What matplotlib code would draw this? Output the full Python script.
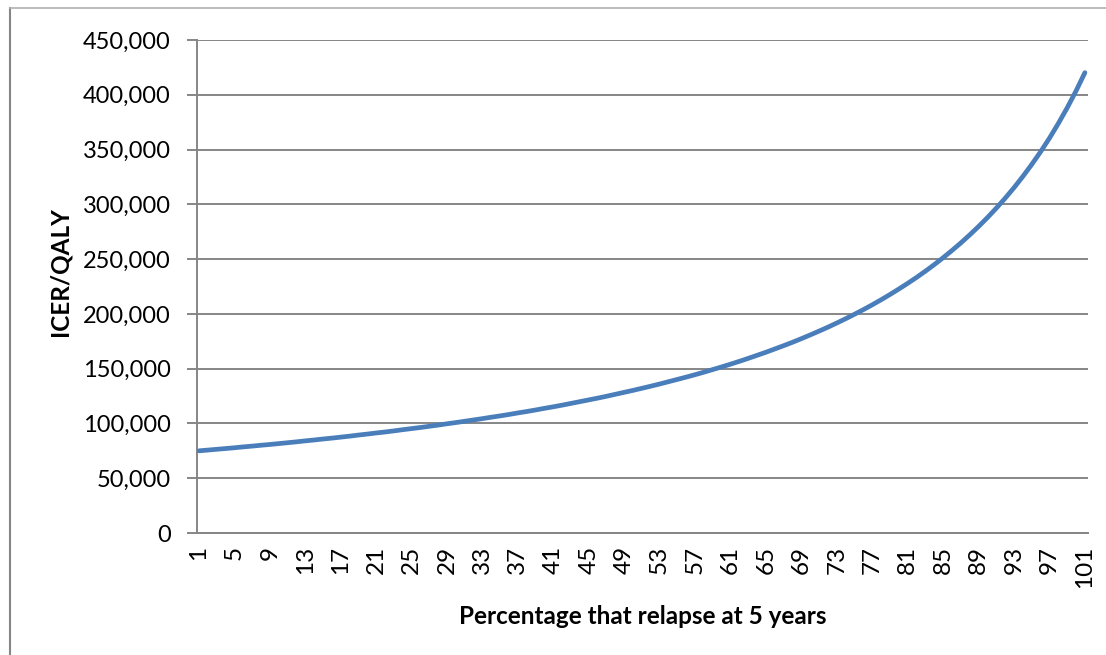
import matplotlib
matplotlib.use("Agg")
import matplotlib.pyplot as plt
from matplotlib.ticker import FuncFormatter
from matplotlib.lines import Line2D

# ---- data ----
relapse_pct = list(range(1, 102))
icer_per_qaly = [
    75000, 75700, 76400, 77100, 77800, 78600, 79300, 80100, 80800, 81600,
    82400, 83200, 84100, 84900, 85800, 86600, 87500, 88400, 89400, 90300,
    91300, 92200, 93200, 94300, 95300, 96300, 97400, 98500, 99700, 100800,
    102000, 103200, 104400, 105700, 106900, 108200, 109600, 110900, 112300, 113800,
    115200, 116700, 118300, 119900, 121500, 123100, 124800, 126600, 128400, 130200,
    132100, 134000, 136000, 138100, 140200, 142300, 144500, 146800, 149200, 151600,
    154100, 156700, 159400, 162200, 165000, 168000, 171000, 174100, 177400, 180800,
    184300, 187900, 191700, 195600, 199700, 203900, 208300, 212900, 217700, 222700,
    227900, 233300, 239000, 245000, 251300, 257900, 264800, 272100, 279800, 287900,
    296500, 305600, 315200, 325500, 336400, 348000, 360400, 373800, 388100, 403500,
    420200,
]
x_tick_labels = [str(v) for v in range(1, 102, 4)]
y_ticks = list(range(0, 450001, 50000))
x_label = "Percentage that relapse at 5 years"
y_label = "ICER/QALY"

# ---- style ----
plt.rcParams['font.family'] = ['Lato', 'DejaVu Sans']
grid_c = '#868686'
line_c = '#4A7EBB'

fig = plt.figure(figsize=(11.06, 6.55), dpi=100)
ax = fig.add_axes([197 / 1106, 1 - 533 / 655, (1088 - 197) / 1106, (533 - 40) / 655])

ax.plot(relapse_pct, icer_per_qaly, color=line_c, lw=3.4,
        solid_capstyle='round', solid_joinstyle='round', zorder=3)

ax.set_xlim(0.78, 101.35)
ax.set_ylim(0, 450000)

ax.set_yticks(y_ticks)
ax.yaxis.set_major_formatter(FuncFormatter(lambda v, p: f"{int(v):,}"))
ax.set_xticks([int(s) for s in x_tick_labels])
ax.set_xticklabels(x_tick_labels, rotation=90)

ax.grid(axis='y', color=grid_c, lw=1.4, zorder=0)
ax.set_axisbelow(True)

for s in ['top', 'right']:
    ax.spines[s].set_visible(False)
for s in ['left', 'bottom']:
    ax.spines[s].set_color(grid_c)
    ax.spines[s].set_linewidth(1.4)

ax.tick_params(axis='y', direction='out', length=7, width=1.4, color=grid_c,
               labelsize=17, pad=12, labelcolor='black')
ax.tick_params(axis='x', length=0, labelsize=17.5, pad=9, labelcolor='black')

ax.set_xlabel(x_label, fontsize=17.5, fontweight='bold')
ax.set_ylabel(y_label, fontsize=17.5, fontweight='bold')
ax.xaxis.label.set_va('center')
ax.yaxis.label.set_va('center')
ax.xaxis.set_label_coords((643 - 197) / 891, (533 - 616) / 493)
ax.yaxis.set_label_coords((60 - 197) / 891, (533 - 272) / 493)

# outer chart-area border (only left and top visible in the reference crop)
fig.add_artist(Line2D([10 / 1106, 10 / 1106], [0, 1 - 8 / 655], transform=fig.transFigure,
                      color=grid_c, lw=1.5))
fig.add_artist(Line2D([10 / 1106, 1], [1 - 8 / 655, 1 - 8 / 655], transform=fig.transFigure,
                      color='#b0b0b0', lw=1.2))

fig.savefig("out.png", dpi=100)
